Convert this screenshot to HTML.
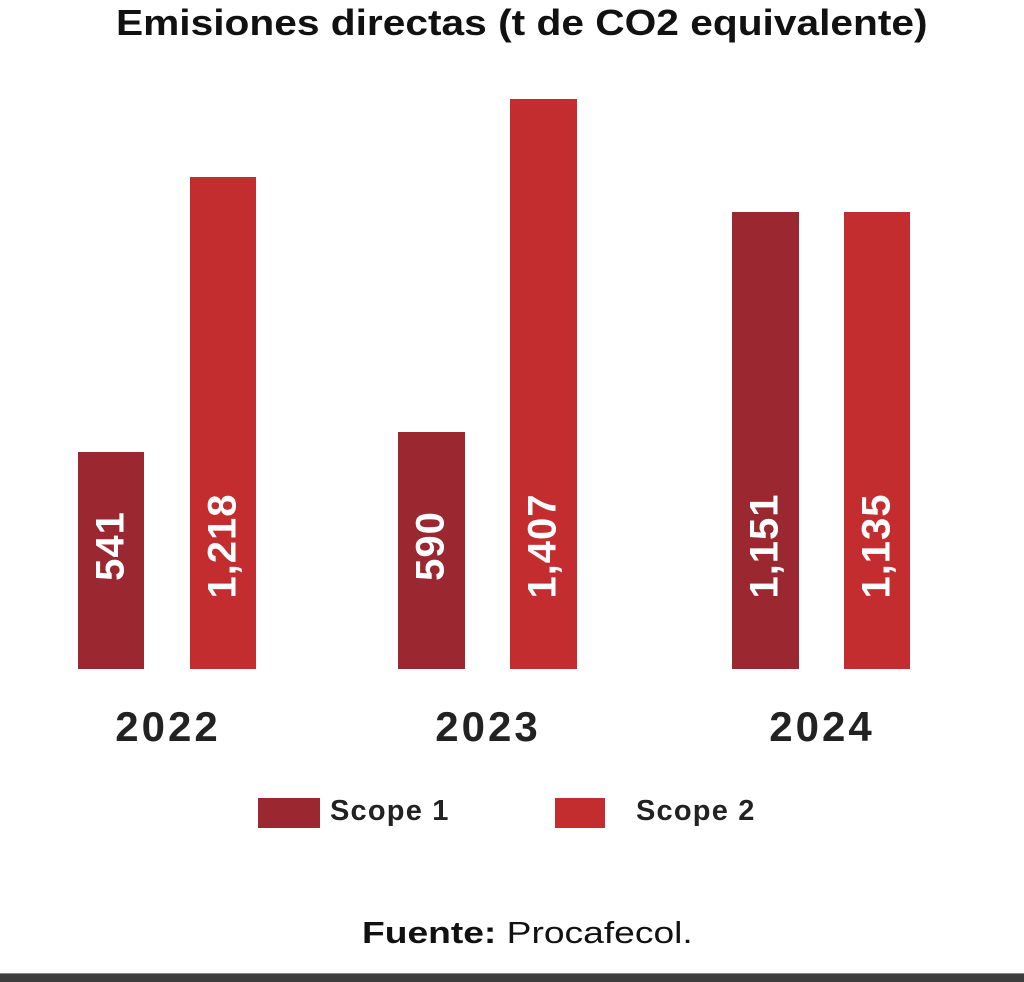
<!DOCTYPE html>
<html><head><style>
body{margin:0;width:1024px;height:981px;background:#fff;position:relative;overflow:hidden;font-family:"Liberation Sans",sans-serif;}
.t{position:absolute;white-space:nowrap;}
.bar{position:absolute;bottom:312px;}
.s1{background:#9b2830}.s2{background:#c42d2f}
.lbl{position:absolute;left:50%;top:546px;transform:translate(-50%,-50%) rotate(-90deg);color:#fff;font-weight:bold;font-size:40px;white-space:nowrap;letter-spacing:1px;}
.yr{position:absolute;width:200px;text-align:center;top:703px;font-size:42px;font-weight:bold;color:#222;letter-spacing:3px;}
</style></head><body>
<div class="t" style="left:116px;top:2px;font-size:36px;font-weight:bold;color:#111;transform-origin:0 0;transform:scaleX(1.13)">Emisiones directas (t de CO2 equivalente)</div>

<div class="bar s1" style="left:78px;width:66px;top:452px"></div>
<div class="bar s2" style="left:190px;width:66px;top:177px"></div>
<div class="bar s1" style="left:398px;width:67px;top:432px"></div>
<div class="bar s2" style="left:510px;width:67px;top:99px"></div>
<div class="bar s1" style="left:732px;width:67px;top:212px"></div>
<div class="bar s2" style="left:844px;width:66px;top:212px"></div>

<div class="t" style="left:111px;top:0"><div class="lbl">541</div></div>
<div class="t" style="left:223px;top:0"><div class="lbl">1,218</div></div>
<div class="t" style="left:431px;top:0"><div class="lbl">590</div></div>
<div class="t" style="left:543px;top:0"><div class="lbl">1,407</div></div>
<div class="t" style="left:765px;top:0"><div class="lbl">1,151</div></div>
<div class="t" style="left:877px;top:0"><div class="lbl">1,135</div></div>

<div class="yr" style="left:68px">2022</div>
<div class="yr" style="left:388px">2023</div>
<div class="yr" style="left:722px">2024</div>

<div class="t s1" style="left:258px;top:798px;width:62px;height:30px"></div>
<div class="t" style="left:330px;top:795px;font-size:29px;font-weight:bold;color:#222;letter-spacing:1.2px">Scope 1</div>
<div class="t s2" style="left:555px;top:798px;width:50px;height:30px"></div>
<div class="t" style="left:636px;top:795px;font-size:29px;font-weight:bold;color:#222;letter-spacing:1.2px">Scope 2</div>

<div class="t" style="left:362px;top:915px;font-size:31px;color:#111;transform-origin:0 0;transform:scaleX(1.2)"><b>Fuente:</b> Procafecol.</div>
<div style="position:absolute;left:0;top:973px;width:1024px;height:8px;background:#3d3d3d;border-top:1px solid #888"></div>
</body></html>
